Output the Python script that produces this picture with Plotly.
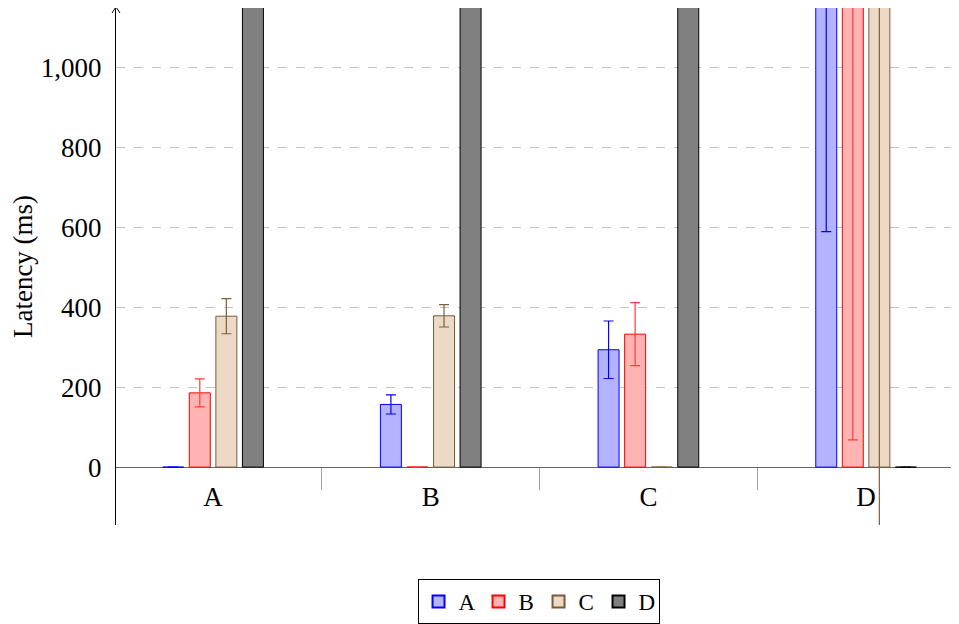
import plotly.graph_objects as go

categories = ["A", "B", "C", "D"]
series_names = ["A", "B", "C", "D"]

vals_A = [0, 157, 294, 1400]
err_A = [0, 24, 72, 810]
vals_B = [186, 0, 333, 1500]
err_B = [35, 0, 79, 1432]
vals_C = [378, 379, 0, 1600]
err_C = [44, 28, 0, 1800]
vals_D = [1700, 1700, 1700, 0]
err_D = [0, 0, 0, 0]

y_ticks = [0, 200, 400, 600, 800, 1000]

fills = ["rgb(179,179,255)", "rgb(255,179,179)", "rgb(236,217,198)", "rgb(128,128,128)"]
edges = ["rgb(0,0,255)", "rgb(255,0,0)", "rgb(120,90,60)", "rgb(0,0,0)"]
errcols = ["rgb(0,0,255)", "rgb(255,60,60)", "rgb(130,95,60)", "rgb(0,0,0)"]

x_idx = list(range(len(categories)))
FONT = "Liberation Serif"

fig = go.Figure()
for name, v, e, fc, ec, erc in zip(series_names, [vals_A, vals_B, vals_C, vals_D],
                                   [err_A, err_B, err_C, err_D], fills, edges, errcols):
    fig.add_trace(go.Bar(
        x=x_idx, y=v, name=name,
        marker=dict(color=fc, line=dict(color=ec, width=1)),
        error_y=dict(type="data", array=e, visible=True, color=erc, thickness=1.2, width=5),
    ))

ymin, ymax = -145, 1150
zero_pos = (0 - ymin) / (ymax - ymin)

# page body has an 8px margin; figure sized/offset to compensate
fig.update_layout(
    width=951, height=616,
    margin=dict(l=108, r=4, t=0, b=99, autoexpand=False),
    paper_bgcolor="white", plot_bgcolor="white",
    barmode="group", bargap=0.512, bargroupgap=0.21,
    font=dict(family=FONT, size=27, color="black"),
    showlegend=True,
    legend=dict(orientation="h", x=0.5036, xanchor="center", y=-0.1044, yanchor="top",
                bordercolor="black", borderwidth=1, font=dict(size=23),
                itemsizing="constant", tracegroupgap=0, entrywidth=15, itemwidth=30),
    xaxis=dict(
        range=[-0.446, 3.4085], tickmode="array", tickvals=x_idx, ticktext=categories,
        showgrid=False, zeroline=False, showline=False,
        anchor="free", position=zero_pos, automargin=False,
        ticks="outside", ticklen=5, tickcolor="rgba(0,0,0,0)",
        minor=dict(tickvals=[i + 0.5 for i in x_idx[:-1]], ticks="outside", ticklen=22,
                   tickcolor="rgb(160,160,160)", tickwidth=1, showgrid=False),
        tickfont=dict(size=27),
    ),
    yaxis=dict(
        range=[ymin, ymax], tickmode="array", tickvals=y_ticks, tickformat=",d",
        showgrid=True, gridcolor="rgb(195,195,195)", griddash="dash", gridwidth=1,
        zeroline=True, zerolinecolor="rgb(100,100,100)", zerolinewidth=1.2,
        showline=True, linecolor="black", linewidth=1.2,
        ticks="", ticklabelstandoff=8,
        title=dict(text="Latency (ms)", standoff=8, font=dict(size=27)),
        automargin=False,
    ),
)

for dx in (-4, 4):
    fig.add_shape(type="line", xref="paper", yref="paper", xsizemode="pixel", ysizemode="pixel",
                  xanchor=0, yanchor=1, x0=dx, y0=-5, x1=0, y1=1,
                  line=dict(color="black", width=1))

fig.write_html("out.html")
